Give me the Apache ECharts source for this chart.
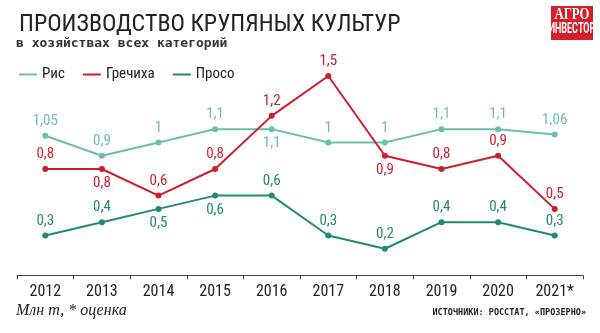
<!DOCTYPE html>
<html><head><meta charset="utf-8">
<script src="https://cdn.jsdelivr.net/npm/echarts@6/dist/echarts.min.js"></script>
<style>html,body{margin:0;padding:0;background:#fff}#c{width:600px;height:333px}</style>
</head><body><div id="c"></div>
<script>
const years = ['2012','2013','2014','2015','2016','2017','2018','2019','2020','2021*'];
const rice = [1.05, 0.9, 1, 1.1, 1.1, 1, 1, 1.1, 1.1, 1.06];
const buckwheat = [0.8, 0.8, 0.6, 0.8, 1.2, 1.5, 0.9, 0.8, 0.9, 0.5];
const millet = [0.3, 0.4, 0.5, 0.6, 0.6, 0.3, 0.2, 0.4, 0.4, 0.3];
const ricePos = ['top','top','top','top','bottom','top','top','top','top','top'];
const buckPos = ['top','bottom','top','top','top','top','bottom','top','top','top'];
const milletPos = ['top','top','bottom','bottom','top','top','top','top','top','top'];

const NARROW = "'Liberation Sans Narrow', 'Roboto Condensed', Roboto, sans-serif";
const fmt = p => String(p.value).replace('.', ',');

function mk(name, vals, pos, color) {
  return {
    name, type: 'line', data: vals.map((v, i) => ({
      value: v,
      label: { position: pos[i] }
    })),
    symbol: 'circle', symbolSize: 6,
    lineStyle: { width: 2, color },
    itemStyle: { color },
    label: { show: true, formatter: fmt, color, fontFamily: NARROW, fontSize: 15, distance: 4 },
    z: 3
  };
}

const chart = echarts.init(document.getElementById('c'));
chart.setOption({
  animation: false,
  backgroundColor: '#fff',
  textStyle: { fontFamily: NARROW },
  grid: { left: 17, right: 17, top: 62.7, bottom: 55, containLabel: false },
  legend: {
    left: 14, top: 62, itemWidth: 18, itemHeight: 2, itemGap: 18,
    icon: 'rect',
    textStyle: { fontFamily: NARROW, fontSize: 15, color: '#222' },
    data: ['Рис', 'Гречиха', 'Просо']
  },
  title: [
    { text: 'ПРОИЗВОДСТВО КРУПЯНЫХ КУЛЬТУР', left: 14, top: 8,
      textStyle: { fontFamily: NARROW, fontSize: 24, fontWeight: 'normal', color: '#222' } }
  ],
  graphic: [
    { type: 'text', left: 16, top: 37, style: { text: 'в хозяйствах всех категорий', font: "bold 13px 'DejaVu Sans Mono'", fill: '#333' } },
    { type: 'rect', shape: { x: 551, y: 6, width: 42, height: 34 }, style: { fill: '#d81e2a' } },
    { type: 'text', x: 572, y: 7, scaleX: 0.8, style: { text: 'АГРО', x: 0, y: 0, align: 'center', font: "bold 16px 'Liberation Serif'", fill: '#fff' } },
    { type: 'text', x: 572, y: 22, scaleX: 0.6, style: { text: 'ИНВЕСТОР', x: 0, y: 0, align: 'center', font: "bold 15px 'Liberation Sans Narrow', Roboto", fill: '#fff' } },
    { type: 'text', left: 16, top: 303, style: { text: 'Млн т, * оценка', font: "italic 16px 'Liberation Serif'", fill: '#222' } },
    { type: 'text', right: 14, top: 308, style: { text: 'ИСТОЧНИКИ: РОССТАТ, «ПРОЗЕРНО»', font: "bold 8.5px 'DejaVu Sans Mono'", fill: '#222' } }
  ],
  xAxis: {
    type: 'category', data: years, boundaryGap: true,
    axisLine: { lineStyle: { color: '#444', width: 1 } },
    axisTick: { show: true, length: 4, lineStyle: { color: '#444' } },
    axisLabel: { color: '#222', fontFamily: NARROW, fontSize: 16, margin: 6 }
  },
  yAxis: {
    type: 'value', min: -0.02, max: 1.6, show: false, splitLine: { show: false }
  },
  series: [
    mk('Рис', rice, ricePos, '#6cbfad'),
    mk('Гречиха', buckwheat, buckPos, '#cc1f2e'),
    mk('Просо', millet, milletPos, '#218a72')
  ]
});
</script></body></html>
